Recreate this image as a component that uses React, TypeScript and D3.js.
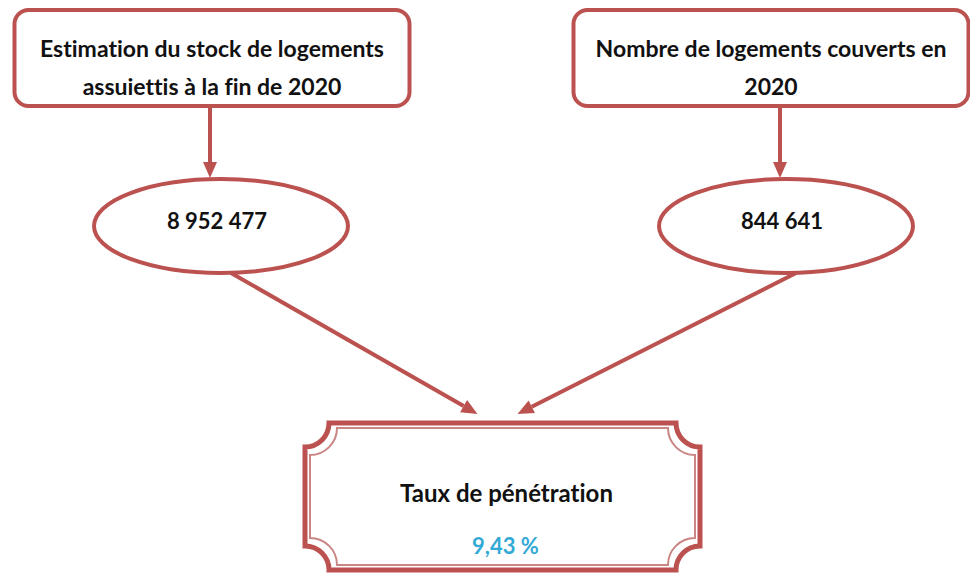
import React, { useEffect, useRef } from "react";
import * as d3 from "d3";

// two source boxes -> two values -> one ratio
const sourceTitles = [
  ["Estimation du stock de logements", "assuiettis à la fin de 2020"],
  ["Nombre de logements couverts en", "2020"],
];
const sourceCounts = [8952477, 844641];
const resultTitle = "Taux de pénétration";

const RED = "#bb5250";
const BLUE = "#33aad6";
const FONT = "Lato, 'Open Sans', sans-serif";

const fr = d3.formatLocale({ decimal: ",", thousands: " ", grouping: [3], currency: ["", " €"] });
const fmtCount = fr.format(",d");
const fmtPct = fr.format(".2f");

const width = 970;
const height = 575;

// draw a line with a filled triangle head at (x2, y2)
const arrow = (g, x1, y1, x2, y2) => {
  const ang = Math.atan2(y2 - y1, x2 - x1);
  const len = 16, half = 7;
  const bx = x2 - len * Math.cos(ang), by = y2 - len * Math.sin(ang);
  g.append("line")
    .attr("x1", x1).attr("y1", y1)
    .attr("x2", bx).attr("y2", by)
    .attr("stroke", RED).attr("stroke-width", 4);
  g.append("path")
    .attr("d", `M ${x2} ${y2} L ${bx + half * Math.sin(ang)} ${by - half * Math.cos(ang)} L ${bx - half * Math.sin(ang)} ${by + half * Math.cos(ang)} Z`)
    .attr("fill", RED);
};

// rectangle with concave (notched) corners
const plaquePath = (x0, y0, x1, y1, r) =>
  `M ${x0 + r} ${y0} L ${x1 - r} ${y0} A ${r} ${r} 0 0 0 ${x1} ${y0 + r}` +
  ` L ${x1} ${y1 - r} A ${r} ${r} 0 0 0 ${x1 - r} ${y1}` +
  ` L ${x0 + r} ${y1} A ${r} ${r} 0 0 0 ${x0} ${y1 - r}` +
  ` L ${x0} ${y0 + r} A ${r} ${r} 0 0 0 ${x0 + r} ${y0} Z`;

const label = (g, x, y, txt, size, fill = "#111") =>
  g.append("text")
    .attr("x", x)
    .attr("y", y)
    .attr("text-anchor", "middle")
    .attr("dominant-baseline", "central")
    .attr("font-family", FONT)
    .attr("font-weight", 700)
    .attr("font-size", size)
    .style("font-variant-ligatures", "none")
    .attr("fill", fill)
    .text(txt);

export default function App() {
  const ref = useRef(null);

  useEffect(() => {
    const svg = d3.select(ref.current);
    svg.selectAll("*").remove();

    const idx = sourceCounts.map((_, i) => i);
    const xBox = d3.scalePoint().domain(idx).range([212, 771]);
    const xEll = d3.scalePoint().domain(idx).range([221, 786]);
    const xArrow = d3.scalePoint().domain(idx).range([210, 780]);

    const box = { top: 10, h: 96, w: 395, rx: 14 };
    const ell = { cy: 226, rx: 127, ry: 47 };
    const plaque = { x0: 305, x1: 700, y0: 423, y1: 570, r: 24 };
    const plaqueCx = (plaque.x0 + plaque.x1) / 2;

    svg.append("rect").attr("width", width).attr("height", height).attr("fill", "#fff");

    const g = svg.append("g");

    // top boxes
    idx.forEach((i) => {
      g.append("rect")
        .attr("x", xBox(i) - box.w / 2)
        .attr("y", box.top)
        .attr("width", box.w)
        .attr("height", box.h)
        .attr("rx", box.rx)
        .attr("fill", "#fff")
        .attr("stroke", RED)
        .attr("stroke-width", 4);

      sourceTitles[i].forEach((line, j) => {
        label(g, xBox(i), 48 + j * 38, line, 23);
      });

      arrow(g, xArrow(i), box.top + box.h + 2, xArrow(i), ell.cy - ell.ry - 1);

      g.append("ellipse")
        .attr("cx", xEll(i))
        .attr("cy", ell.cy)
        .attr("rx", ell.rx)
        .attr("ry", ell.ry)
        .attr("fill", "#fff")
        .attr("stroke", RED)
        .attr("stroke-width", 4);

      label(g, xEll(i) - 4, ell.cy - 6, fmtCount(sourceCounts[i]), 22);

      const endX = plaqueCx - 5 + (i === 0 ? -20 : 20);
      arrow(g, xEll(i) + 10, ell.cy + ell.ry, endX, plaque.y0 - 9);
    });

    // result plaque with double border
    g.append("path")
      .attr("d", plaquePath(plaque.x0, plaque.y0, plaque.x1, plaque.y1, plaque.r))
      .attr("fill", "#fff")
      .attr("stroke", RED)
      .attr("stroke-width", 5);
    const ins = 5;
    g.append("path")
      .attr("d", plaquePath(plaque.x0 + ins, plaque.y0 + ins, plaque.x1 - ins, plaque.y1 - ins, plaque.r + ins - 2))
      .attr("fill", "none")
      .attr("stroke", "#c98684")
      .attr("stroke-width", 2);

    label(g, plaqueCx + 4, 492, resultTitle, 24);

    const rate = (sourceCounts[1] / sourceCounts[0]) * 100;
    label(g, plaqueCx + 3, 545, `${fmtPct(rate)} %`, 22, BLUE);
  }, []);

  return (
    <div style={{ position: "absolute", left: 0, top: 0 }}>
      <svg ref={ref} width={width} height={height} style={{ display: "block" }}></svg>
    </div>
  );
}
